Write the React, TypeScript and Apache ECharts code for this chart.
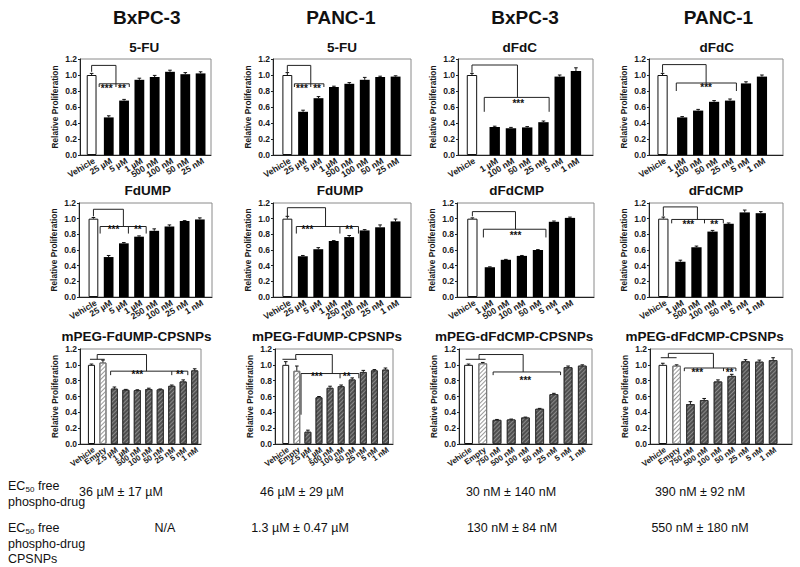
import React, { useEffect, useRef } from "react";
import * as echarts from "echarts";

const FONT = "'Liberation Sans', Arial, Helvetica, sans-serif";

// ---------- headings ----------
const cellLineTitles = ["BxPC-3", "PANC-1", "BxPC-3", "PANC-1"];
const row1Titles = ["5-FU", "5-FU", "dFdC", "dFdC"];
const row2Titles = ["FdUMP", "FdUMP", "dFdCMP", "dFdCMP"];
const row3Titles = ["mPEG-FdUMP-CPSNPs", "mPEG-FdUMP-CPSNPs", "mPEG-dFdCMP-CPSNPs", "mPEG-dFdCMP-CPSNPs"];
const yTitle = "Relative Proliferation";

// ---------- categories ----------
const fuCategories = ["Vehicle", "25 µM", "5 µM", "1 µM", "500 nM", "100 nM", "50 nM", "25 nM"];
const dfdcCategories = ["Vehicle", "1 µM", "100 nM", "50 nM", "25 nM", "5 nM", "1 nM"];
const fdumpCategories = ["Vehicle", "25 µM", "5 µM", "1 µM", "250 nM", "100 nM", "25 nM", "1 nM"];
const dfdcmpCategories = ["Vehicle", "1 µM", "500 nM", "100 nM", "50 nM", "5 nM", "1 nM"];
const fdumpNanoCategories = ["Vehicle", "Empty", "2.5 µM", "1 µM", "500 nM", "100 nM", "50 nM", "25 nM", "5 nM", "1 nM"];
const dfdcmpNanoCategories = ["Vehicle", "Empty", "750 nM", "500 nM", "100 nM", "50 nM", "25 nM", "5 nM", "1 nM"];

// ---------- values & errors ----------
const bxFuValues = [1.0, 0.47, 0.68, 0.94, 0.975, 1.04, 1.01, 1.02];
const bxFuErrors = [0.02, 0.02, 0.015, 0.02, 0.02, 0.02, 0.02, 0.02];
const paFuValues = [1.0, 0.54, 0.71, 0.85, 0.89, 0.94, 0.975, 0.98];
const paFuErrors = [0.03, 0.02, 0.02, 0.01, 0.015, 0.03, 0.01, 0.01];
const bxDfdcValues = [1.0, 0.35, 0.335, 0.345, 0.41, 0.98, 1.05];
const bxDfdcErrors = [0.02, 0.01, 0.01, 0.01, 0.015, 0.02, 0.04];
const paDfdcValues = [1.0, 0.47, 0.555, 0.665, 0.68, 0.895, 0.98];
const paDfdcErrors = [0.02, 0.01, 0.015, 0.015, 0.02, 0.02, 0.02];

const bxFdumpValues = [1.0, 0.51, 0.685, 0.77, 0.845, 0.9, 0.97, 0.99];
const bxFdumpErrors = [0.015, 0.02, 0.01, 0.01, 0.025, 0.02, 0.005, 0.02];
const paFdumpValues = [1.0, 0.52, 0.61, 0.715, 0.765, 0.85, 0.89, 0.965];
const paFdumpErrors = [0.03, 0.01, 0.02, 0.005, 0.02, 0.01, 0.03, 0.03];
const bxDfdcmpValues = [1.0, 0.38, 0.475, 0.525, 0.6, 0.96, 1.01];
const bxDfdcmpErrors = [0.01, 0.005, 0.005, 0.005, 0.005, 0.01, 0.01];
const paDfdcmpValues = [1.0, 0.45, 0.635, 0.835, 0.935, 1.08, 1.07];
const paDfdcmpErrors = [0.02, 0.02, 0.015, 0.015, 0.01, 0.03, 0.02];

const bxFdumpNanoValues = [1.0, 1.03, 0.7, 0.685, 0.68, 0.695, 0.69, 0.735, 0.79, 0.93];
const bxFdumpNanoErrors = [0.01, 0.03, 0.02, 0.005, 0.005, 0.01, 0.005, 0.01, 0.02, 0.02];
const paFdumpNanoValues = [1.0, 0.925, 0.155, 0.59, 0.71, 0.73, 0.815, 0.91, 0.93, 0.94];
const paFdumpNanoErrors = [0.04, 0.06, 0.02, 0.01, 0.02, 0.015, 0.02, 0.02, 0.01, 0.02];
const bxDfdcmpNanoValues = [1.0, 1.02, 0.305, 0.31, 0.335, 0.445, 0.63, 0.97, 0.99];
const bxDfdcmpNanoErrors = [0.01, 0.01, 0.005, 0.005, 0.005, 0.005, 0.01, 0.015, 0.01];
const paDfdcmpNanoValues = [1.0, 0.99, 0.505, 0.555, 0.79, 0.86, 1.045, 1.04, 1.06];
const paDfdcmpNanoErrors = [0.02, 0.01, 0.03, 0.02, 0.02, 0.02, 0.02, 0.02, 0.03];

// ---------- significance brackets (x in bar-index units, y in data units) ----------
const bxFuBrackets = [[[0, 1.04], [0, 1.12], [1.47, 1.12], [1.47, 0.85]], [[0.44, 0.85], [0.44, 0.89], [2.34, 0.89], [2.34, 0.85]]];
const bxFuStars: [number, number, string][] = [[0.88, 0.835, "***"], [1.86, 0.835, "**"]];
const paFuBrackets = [[[0, 1.04], [0, 1.12], [1.5, 1.12], [1.5, 0.85]], [[0.45, 0.85], [0.45, 0.89], [2.35, 0.89], [2.35, 0.85]]];
const paFuStars: [number, number, string][] = [[0.93, 0.835, "***"], [1.91, 0.835, "**"]];
const bxDfdcBrackets = [[[0, 1.03], [0, 1.125], [2.4, 1.125], [2.4, 0.72]], [[0.54, 0.54], [0.54, 0.72], [4.35, 0.72], [4.35, 0.54]]];
const bxDfdcStars: [number, number, string][] = [[2.45, 0.65, "***"]];
const paDfdcBrackets = [[[0, 1.03], [0, 1.13], [2.5, 1.13], [2.5, 0.9]], [[0.7, 0.8], [0.7, 0.9], [4.4, 0.9], [4.4, 0.8]]];
const paDfdcStars: [number, number, string][] = [[2.5, 0.845, "***"]];

const bxFdumpBrackets = [[[0, 1.03], [0, 1.12], [1.97, 1.12], [1.97, 0.9]], [[0.44, 0.81], [0.44, 0.9], [3.47, 0.9], [3.47, 0.81]], [[2.3, 0.9], [2.3, 0.81]]];
const bxFdumpStars: [number, number, string][] = [[1.32, 0.86, "***"], [2.92, 0.86, "**"]];
const paFdumpBrackets = [[[0, 1.03], [0, 1.14], [2.47, 1.14], [2.47, 0.9]], [[0.58, 0.81], [0.58, 0.9], [4.6, 0.9], [4.6, 0.81]], [[3.4, 0.9], [3.4, 0.81]]];
const paFdumpStars: [number, number, string][] = [[1.3, 0.86, "***"], [4.0, 0.86, "**"]];
const bxDfdcmpBrackets = [[[0, 1.03], [0, 1.09], [2.6, 1.09], [2.6, 0.865]], [[0.63, 0.76], [0.63, 0.865], [4.5, 0.865], [4.5, 0.76]]];
const bxDfdcmpStars: [number, number, string][] = [[2.6, 0.78, "***"]];
const paDfdcmpBrackets = [[[0, 1.03], [0, 1.15], [2.06, 1.15], [2.06, 0.99]], [[0.49, 0.94], [0.49, 0.99], [3.67, 0.99], [3.67, 0.94]], [[2.5, 0.99], [2.5, 0.94]]];
const paDfdcmpStars: [number, number, string][] = [[1.5, 0.92, "***"], [3.1, 0.92, "**"]];

const bxFdumpNanoBrackets = [[[-0.13, 1.07], [1.15, 1.07]], [[0.5, 1.07], [0.5, 1.13], [4.8, 1.13], [4.8, 0.92]], [[1.67, 0.87], [1.67, 0.92], [8.4, 0.92], [8.4, 0.87]], [[7.0, 0.92], [7.0, 0.87]]];
const bxFdumpNanoStars: [number, number, string][] = [[4.0, 0.88, "***"], [7.7, 0.88, "**"]];
const paFdumpNanoBrackets = [[[-0.3, 1.07], [1.0, 1.07]], [[0.9, 1.07], [0.9, 1.13], [4.2, 1.13], [4.2, 0.89]], [[1.38, 0.37], [1.38, 0.89], [6.6, 0.89], [6.6, 0.83]], [[4.9, 0.89], [4.9, 0.83]]];
const paFdumpNanoStars: [number, number, string][] = [[2.8, 0.85, "***"], [5.5, 0.85, "**"]];
const bxDfdcmpNanoBrackets = [[[-0.2, 1.07], [1.2, 1.07]], [[0.74, 1.07], [0.74, 1.13], [3.84, 1.13], [3.84, 0.91]], [[1.73, 0.87], [1.73, 0.91], [6.47, 0.91], [6.47, 0.87]]];
const bxDfdcmpNanoStars: [number, number, string][] = [[4.0, 0.8, "***"]];
const paDfdcmpNanoBrackets = [[[-0.15, 1.09], [1.0, 1.09]], [[0.4, 1.09], [0.4, 1.145], [3.67, 1.145], [3.67, 0.96]], [[1.56, 0.92], [1.56, 0.96], [5.3, 0.96], [5.3, 0.92]], [[4.4, 0.96], [4.4, 0.92]]];
const paDfdcmpNanoStars: [number, number, string][] = [[2.5, 0.9, "***"], [4.84, 0.9, "**"]];

// ---------- EC50 texts ----------
const ec50FreeValues = ["36 µM ± 17 µM", "46 µM ± 29 µM", "30 nM ± 140 nM", "390 nM ± 92 nM"];
const ec50NanoValues = ["N/A", "1.3 µM ± 0.47 µM", "130 nM ± 84 nM", "550 nM ± 180 nM"];

type Panel = {
  title: string; cats: string[]; vals: number[]; errs: number[];
  lines: number[][][]; stars: [number, number, string][]; nano: boolean;
};

const panels: Panel[] = [
  { title: row1Titles[0], cats: fuCategories, vals: bxFuValues, errs: bxFuErrors, lines: bxFuBrackets, stars: bxFuStars, nano: false },
  { title: row1Titles[1], cats: fuCategories, vals: paFuValues, errs: paFuErrors, lines: paFuBrackets, stars: paFuStars, nano: false },
  { title: row1Titles[2], cats: dfdcCategories, vals: bxDfdcValues, errs: bxDfdcErrors, lines: bxDfdcBrackets, stars: bxDfdcStars, nano: false },
  { title: row1Titles[3], cats: dfdcCategories, vals: paDfdcValues, errs: paDfdcErrors, lines: paDfdcBrackets, stars: paDfdcStars, nano: false },
  { title: row2Titles[0], cats: fdumpCategories, vals: bxFdumpValues, errs: bxFdumpErrors, lines: bxFdumpBrackets, stars: bxFdumpStars, nano: false },
  { title: row2Titles[1], cats: fdumpCategories, vals: paFdumpValues, errs: paFdumpErrors, lines: paFdumpBrackets, stars: paFdumpStars, nano: false },
  { title: row2Titles[2], cats: dfdcmpCategories, vals: bxDfdcmpValues, errs: bxDfdcmpErrors, lines: bxDfdcmpBrackets, stars: bxDfdcmpStars, nano: false },
  { title: row2Titles[3], cats: dfdcmpCategories, vals: paDfdcmpValues, errs: paDfdcmpErrors, lines: paDfdcmpBrackets, stars: paDfdcmpStars, nano: false },
  { title: row3Titles[0], cats: fdumpNanoCategories, vals: bxFdumpNanoValues, errs: bxFdumpNanoErrors, lines: bxFdumpNanoBrackets, stars: bxFdumpNanoStars, nano: true },
  { title: row3Titles[1], cats: fdumpNanoCategories, vals: paFdumpNanoValues, errs: paFdumpNanoErrors, lines: paFdumpNanoBrackets, stars: paFdumpNanoStars, nano: true },
  { title: row3Titles[2], cats: dfdcmpNanoCategories, vals: bxDfdcmpNanoValues, errs: bxDfdcmpNanoErrors, lines: bxDfdcmpNanoBrackets, stars: bxDfdcmpNanoStars, nano: true },
  { title: row3Titles[3], cats: dfdcmpNanoCategories, vals: paDfdcmpNanoValues, errs: paDfdcmpNanoErrors, lines: paDfdcmpNanoBrackets, stars: paDfdcmpNanoStars, nano: true },
];

// layout: plot box [left, top, right, bottom] in px, paddings in bar spacings, vehicle gap, title centre
const layouts = [
  { box: [80, 59, 211, 155], padL: 0.76, g: 0.12, padR: 0.68, tx: 144.3, ty: 47.7 },
  { box: [273, 59, 411, 155], padL: 0.93, g: 0.02, padR: 1.0, tx: 342, ty: 47.7 },
  { box: [458, 59, 593, 155], padL: 0.86, g: 0.4, padR: 1.05, tx: 519.7, ty: 47.7 },
  { box: [649, 59, 783, 155], padL: 0.85, g: 0.23, padR: 1.32, tx: 716.7, ty: 47.7 },
  { box: [79, 203, 212, 297], padL: 0.95, g: 0.0, padR: 0.8, tx: 147.8, ty: 190 },
  { box: [273, 203, 411, 297], padL: 0.93, g: 0.0, padR: 1.0, tx: 340, ty: 190 },
  { box: [457, 203, 594, 297], padL: 0.96, g: 0.09, padR: 1.5, tx: 516.7, ty: 190 },
  { box: [649, 203, 783, 297], padL: 0.89, g: 0.06, padR: 1.38, tx: 716, ty: 190 },
  { box: [80, 349, 201, 444], padL: 1.0, g: 0.0, padR: 0.55, tx: 136.5, ty: 336.7 },
  { box: [275, 349, 393, 444], padL: 0.97, g: 0.0, padR: 0.68, tx: 327, ty: 336.7 },
  { box: [459, 349, 592, 444], padL: 0.67, g: 0.0, padR: 0.68, tx: 514, ty: 336.7 },
  { box: [650, 349, 792, 444], padL: 0.93, g: 0.0, padR: 1.37, tx: 704.5, ty: 336.7 },
];
const headingX = [146.7, 340.8, 525, 718.5];

function mapX(pos: number[], x: number) {
  const n = pos.length;
  if (x <= 0) return pos[0] + x;
  if (x >= n - 1) return pos[n - 1] + (x - (n - 1));
  const i = Math.floor(x);
  return pos[i] + (x - i) * (pos[i + 1] - pos[i]);
}

function barStyle(kind: string) {
  if (kind === "v") return { color: "#ffffff", borderColor: "#111", borderWidth: 1 };
  if (kind === "b") return { color: "#000000" };
  const decalBase = { symbol: "rect", symbolSize: 1, dashArrayX: [1, 0], dashArrayY: [1, 2], rotation: -Math.PI / 4 };
  if (kind === "e") return { color: "#ffffff", borderColor: "#777", borderWidth: 1, decal: { ...decalBase, color: "#9a9a9a" } };
  return { color: "#505050", borderColor: "#333", borderWidth: 1, decal: { ...decalBase, color: "#8a8a8a" } };
}

function buildOption() {
  const grid: any[] = [];
  const xAxis: any[] = [];
  const yAxis: any[] = [];
  const series: any[] = [];
  const graphic: any[] = [];

  panels.forEach((p, k) => {
    const L = layouts[k];
    const n = p.vals.length;
    const pos = p.vals.map((_, i) => (p.nano ? (i <= 1 ? i - L.g : i) : i === 0 ? -L.g : i));
    const xMin = pos[0] - L.padL;
    const xMax = n - 1 + L.padR;
    const [l, t, r, b] = L.box;
    const spacing = (r - l) / (xMax - xMin);
    const row = Math.floor(k / 4);
    const rot = row === 2 ? 35 : 31;
    const labFont = row === 2 ? `bold 8px ${FONT}` : `bold 8.7px ${FONT}`;

    grid.push({ left: l, top: t, width: r - l, height: b - t, show: true, borderColor: "#8a8a8a", borderWidth: 1, backgroundColor: "transparent", containLabel: false, outerBoundsMode: "none" });
    xAxis.push({
      type: "value", gridIndex: k, min: xMin, max: xMax, position: "bottom",
      axisLine: { show: true, onZero: false, lineStyle: { color: "#222", width: 1 } },
      axisTick: { show: false }, splitLine: { show: false }, axisLabel: { show: false },
    });
    yAxis.push({
      type: "value", gridIndex: k, min: 0, max: 1.2, interval: 0.2, position: "left",
      name: yTitle, nameLocation: "middle", nameGap: 21,
      nameTextStyle: { fontSize: 8.3, fontWeight: "bold", color: "#1a1a1a", fontFamily: FONT },
      axisLine: { show: true, onZero: false, lineStyle: { color: "#222", width: 1 } },
      axisTick: { show: true, length: 2, lineStyle: { color: "#222" } },
      splitLine: { show: false },
      axisLabel: { formatter: (v: number) => v.toFixed(1), fontSize: 8.5, fontWeight: "bold", color: "#1a1a1a", fontFamily: FONT, margin: 3, showMinLabel: true, showMaxLabel: true },
    });

    const kinds = p.vals.map((_, i) => (i === 0 ? "v" : p.nano ? (i === 1 ? "e" : "h") : "b"));
    series.push({
      type: "bar", xAxisIndex: k, yAxisIndex: k, barWidth: spacing * (p.nano ? 0.62 : 0.64), z: 2,
      data: p.vals.map((v, i) => ({ value: [pos[i], v], itemStyle: barStyle(kinds[i]) })),
    });
    // category labels along the x axis
    series.push({
      type: "custom", xAxisIndex: k, yAxisIndex: k, z: 5, silent: true, clip: false,
      encode: { x: 0, y: 1 },
      data: pos.map((x) => [x, 0]),
      renderItem: (params: any, api: any) => {
        const pt = api.coord([api.value(0), 0]);
        return {
          type: "text", x: pt[0] + 2.5, y: pt[1] + 5, rotation: (rot * Math.PI) / 180,
          style: { text: p.cats[params.dataIndex], fill: "#1a1a1a", font: labFont, textAlign: "right", textVerticalAlign: "middle" },
        };
      },
    });
    series.push({
      type: "custom", xAxisIndex: k, yAxisIndex: k, z: 3,
      encode: { x: 0, y: 1 },
      data: p.vals.map((v, i) => [pos[i], v, p.errs[i]]),
      renderItem: (_params: any, api: any) => {
        const x = api.value(0), v = api.value(1), e = api.value(2);
        const p0 = api.coord([x, v]);
        const p1 = api.coord([x, v + e]);
        const c = 1.8;
        const stroke = "#111";
        return {
          type: "group", children: [
            { type: "line", shape: { x1: p0[0], y1: p0[1], x2: p1[0], y2: p1[1] }, style: { stroke, lineWidth: 1 } },
            { type: "line", shape: { x1: p1[0] - c, y1: p1[1], x2: p1[0] + c, y2: p1[1] }, style: { stroke, lineWidth: 1 } },
          ],
        };
      },
    });
    series.push({
      type: "custom", xAxisIndex: k, yAxisIndex: k, z: 4,
      encode: { x: 0, y: 1 },
      data: p.lines.map((ln) => [mapX(pos, ln[0][0]), ln[0][1]]),
      renderItem: (params: any, api: any) => {
        const ln = p.lines[params.dataIndex];
        const pts = ln.map(([x, y]) => api.coord([mapX(pos, x), y]));
        return { type: "polyline", shape: { points: pts }, style: { stroke: "#222", lineWidth: 1, fill: "none" } };
      },
    });
    series.push({
      type: "custom", xAxisIndex: k, yAxisIndex: k, z: 4,
      encode: { x: 0, y: 1 },
      data: p.stars.map((s) => [mapX(pos, s[0]), s[1]]),
      renderItem: (params: any, api: any) => {
        const s = p.stars[params.dataIndex];
        const pt = api.coord([mapX(pos, s[0]), s[1]]);
        return {
          type: "text", x: pt[0], y: pt[1],
          style: { text: s[2], fill: "#111", font: `bold 10px ${FONT}`, textAlign: "center", textVerticalAlign: "middle" },
        };
      },
    });

    graphic.push({
      type: "text", x: L.tx, y: L.ty,
      style: { text: p.title, fill: "#111", font: `bold 13.5px ${FONT}`, textAlign: "center", textVerticalAlign: "middle" },
    });
  });

  cellLineTitles.forEach((s, i) => {
    graphic.push({
      type: "text", x: headingX[i], y: 17,
      style: { text: s, fill: "#111", font: `bold 19px ${FONT}`, textAlign: "center", textVerticalAlign: "middle" },
    });
  });

  const bodyFont = `12.5px ${FONT}`;
  const subFont = `8px ${FONT}`;
  const labelBlock = (y: number, extra: string[]) => {
    graphic.push({ type: "text", x: 8, y, style: { text: "EC", fill: "#111", font: bodyFont, textVerticalAlign: "middle" } });
    graphic.push({ type: "text", x: 25.5, y: y + 3.5, style: { text: "50", fill: "#111", font: subFont, textVerticalAlign: "middle" } });
    graphic.push({ type: "text", x: 34.5, y, style: { text: " free", fill: "#111", font: bodyFont, textVerticalAlign: "middle" } });
    extra.forEach((s, j) => {
      graphic.push({ type: "text", x: 8, y: y + 15.5 * (j + 1), style: { text: s, fill: "#111", font: bodyFont, textVerticalAlign: "middle" } });
    });
  };
  labelBlock(486, ["phospho-drug"]);
  labelBlock(528, ["phospho-drug", "CPSNPs"]);
  const valueX = [121, 302, 511, 700];
  const nanoX = [165, 300, 512, 700];
  ec50FreeValues.forEach((s, i) => {
    graphic.push({ type: "text", x: valueX[i], y: 492, style: { text: s, fill: "#111", font: bodyFont, textAlign: "center", textVerticalAlign: "middle" } });
  });
  ec50NanoValues.forEach((s, i) => {
    graphic.push({ type: "text", x: nanoX[i], y: 528, style: { text: s, fill: "#111", font: bodyFont, textAlign: "center", textVerticalAlign: "middle" } });
  });

  return { animation: false, backgroundColor: "#ffffff", grid, xAxis, yAxis, series, graphic };
}

export default function App() {
  const ref = useRef<HTMLDivElement>(null);
  useEffect(() => {
    if (!ref.current) return;
    const chart = echarts.init(ref.current, undefined, { renderer: "svg" });
    chart.setOption(buildOption() as any);
    return () => chart.dispose();
  }, []);
  return <div ref={ref} style={{ position: "absolute", left: 0, top: 0, width: 800, height: 567, background: "#fff" }} />;
}
